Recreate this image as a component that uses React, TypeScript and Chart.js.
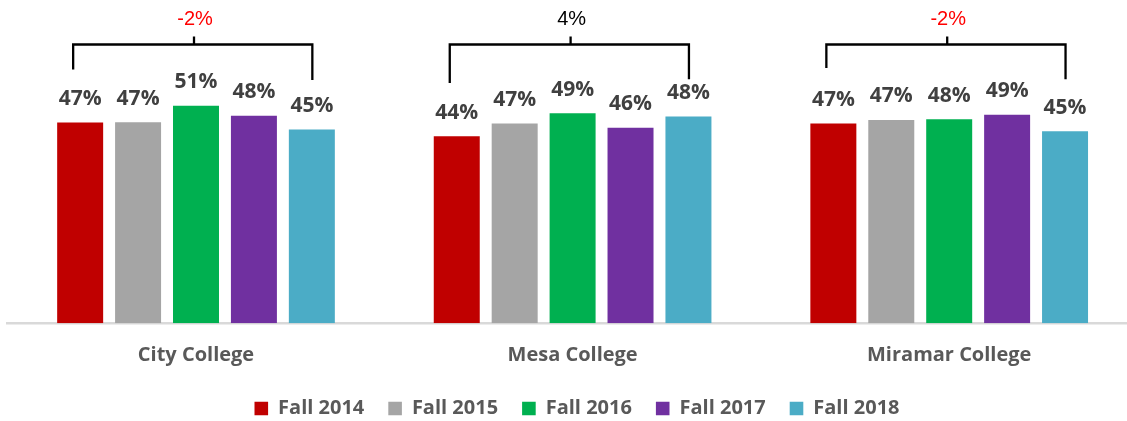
import React, { useEffect, useRef } from "react";
import { Chart, registerables } from "chart.js";

Chart.register(...registerables);

const categories = ["City College", "Mesa College", "Miramar College"];
const seriesNames = ["Fall 2014", "Fall 2015", "Fall 2016", "Fall 2017", "Fall 2018"];
const fall2014 = [46.8, 43.6, 46.6];
const fall2015 = [46.9, 46.6, 47.4];
const fall2016 = [50.7, 49.0, 47.6];
const fall2017 = [48.4, 45.6, 48.6];
const fall2018 = [45.2, 48.2, 44.8];
const seriesValues = [fall2014, fall2015, fall2016, fall2017, fall2018];
const seriesColors = ["#C00000", "#A5A5A5", "#00B050", "#7030A0", "#4BACC6"];

const changeLabels = ["-2%", "4%", "-2%"];
const changeColors = ["#FF0000", "#000000", "#FF0000"];
const bracketLeftEnd = [59.2, 56.0, 59.5];
const bracketRightEnd = [56.7, 56.9, 56.9];
const yMin = 0;
const yMax = 65;

const FONT = "'Open Sans', 'DejaVu Sans', sans-serif";

const annotatePlugin = {
  id: "annotate",
  afterDatasetsDraw(chart: any) {
    const ctx = chart.ctx;
    const yScale = chart.scales.y;
    const xScale = chart.scales.x;
    ctx.save();
    ctx.textAlign = "center";
    ctx.textBaseline = "alphabetic";
    ctx.font = `bold 21px ${FONT}`;
    ctx.fillStyle = "#404040";
    chart.data.datasets.forEach((ds: any, di: number) => {
      const meta = chart.getDatasetMeta(di);
      meta.data.forEach((bar: any, i: number) => {
        ctx.fillText(Math.round(ds.data[i]) + "%", bar.x, bar.y - 17.5);
      });
    });
    const top = chart.chartArea.top;
    const first = chart.getDatasetMeta(0);
    const last = chart.getDatasetMeta(chart.data.datasets.length - 1);
    categories.forEach((_c, i) => {
      const lx = first.data[i].x - 7;
      const rx = last.data[i].x + 0.5;
      const cx = xScale.getPixelForValue(i) - 2;
      ctx.strokeStyle = "#000000";
      ctx.lineWidth = 2.3;
      ctx.lineJoin = "miter";
      ctx.lineCap = "butt";
      ctx.beginPath();
      ctx.moveTo(lx, yScale.getPixelForValue(bracketLeftEnd[i]));
      ctx.lineTo(lx, top);
      ctx.lineTo(rx, top);
      ctx.lineTo(rx, yScale.getPixelForValue(bracketRightEnd[i]));
      ctx.stroke();
      ctx.beginPath();
      ctx.moveTo(cx, top);
      ctx.lineTo(cx, top - 8);
      ctx.stroke();
      ctx.font = "20px 'Liberation Sans', Arial, sans-serif";
      ctx.fillStyle = changeColors[i];
      ctx.fillText(changeLabels[i], cx + 1, top - 19.5);
    });
    ctx.restore();
  },
};

export default function App() {
  const ref = useRef<HTMLCanvasElement | null>(null);
  useEffect(() => {
    if (!ref.current) return;
    const chart = new Chart(ref.current, {
      type: "bar",
      data: {
        labels: categories,
        datasets: seriesNames.map((name, i) => ({
          label: name,
          data: seriesValues[i],
          backgroundColor: seriesColors[i],
          borderWidth: 0,
          categoryPercentage: 0.769,
          barPercentage: 0.794,
        })),
      },
      options: {
        animation: false,
        responsive: false,
        devicePixelRatio: 1,
        layout: { padding: { left: 7.7, right: 3.7, top: 44.5, bottom: 1.5 } },
        scales: {
          x: {
            grid: { display: false, drawTicks: false },
            border: { display: true, color: "#D9D9D9", width: 2.5 },
            ticks: {
              font: { family: FONT, size: 20, weight: "bold" },
              color: "#595959",
              padding: 20,
            },
            afterFit(scale: any) {
              scale.height = 51.2;
            },
          },
          y: {
            display: true,
            position: "right",
            min: yMin,
            max: yMax,
            grid: { display: false, drawTicks: false },
            border: { display: false },
            ticks: { display: false },
            afterFit(scale: any) {
              scale.width = 8.8;
            },
          },
        },
        plugins: {
          legend: {
            position: "bottom",
            labels: {
              boxWidth: 13.6,
              boxHeight: 13.6,
              padding: 24,
              color: "#595959",
              font: { family: FONT, size: 20, weight: "bold" },
            },
          },
          tooltip: { enabled: false },
        },
      } as any,
      plugins: [annotatePlugin],
    });
    return () => chart.destroy();
  }, []);
  return (
    <div style={{ position: "fixed", left: 0, top: 0, width: 1127, height: 421, overflow: "hidden", background: "#fff" }}>
      <canvas ref={ref} width={1150} height={430} style={{ display: "block" }} />
    </div>
  );
}
